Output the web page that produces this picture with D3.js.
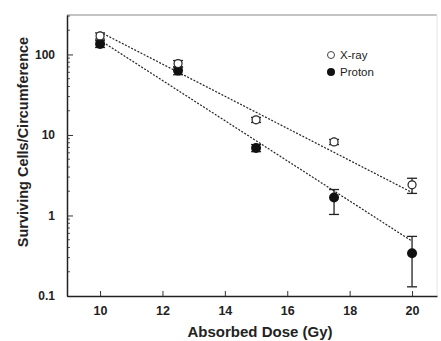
<!DOCTYPE html>
<html>
<head>
<meta charset="utf-8">
<script src="https://cdn.jsdelivr.net/npm/d3@7"></script>
<style>
body{margin:0;background:#fff;}
svg text{font-family:"Liberation Sans",Arial,sans-serif;}
</style>
</head>
<body>
<div id="plot"></div>
<script>
// data
var doses = [10, 12.5, 15, 17.5, 20];
var xray = [170, 77, 15.4, 8.2, 2.4];
var xrayLo = [155, 70, 14.3, 7.6, 1.88];
var xrayHi = [185, 84, 16.5, 8.8, 2.9];
var proton = [135, 63, 6.9, 1.67, 0.34];
var protonLo = [122, 56, 6.2, 1.03, 0.13];
var protonHi = [148, 70, 7.6, 2.1, 0.55];
var fitDose = [10, 20];
var xrayFit = [190, 1.93];
var protonFit = [150, 0.48];
var xTicks = [10, 12, 14, 16, 18, 20];
var yTicks = [0.1, 1, 10, 100];

var margin = {t:15, r:4, b:45, l:67};
var W = 441, H = 341;
var width = W - margin.l - margin.r,
    height = H - margin.t - margin.b;

var svg = d3.select('#plot').append('svg')
    .attr('width', W)
    .attr('height', H);

var plot = svg.append('g')
    .attr('transform', 'translate(' + margin.l + ',' + margin.t + ')');

var x = d3.scaleLinear().domain([8.94, 20.8]).range([0, width]);
var y = d3.scaleLog().domain([0.1, Math.pow(10, 3.49) / 10]).range([height, 0]);

// frame: gray top and right, black left and bottom
plot.append('line').attr('x1', 0).attr('x2', width).attr('y1', 0).attr('y2', 0)
    .attr('stroke', '#c4c4c4').attr('stroke-width', 2);
plot.append('line').attr('x1', width).attr('x2', width).attr('y1', 0).attr('y2', height)
    .attr('stroke', '#e6e6e6').attr('stroke-width', 1);

// minor y ticks
var minor = [];
for (var d = 0.1; d < 1000; d *= 10) {
    for (var k = 2; k <= 9; k++) {
        if (d * k <= y.domain()[1]) minor.push(d * k);
    }
}
plot.selectAll('.minor').data(minor).enter().append('line')
    .attr('x1', 0).attr('x2', 3)
    .attr('y1', function(d){ return y(d); })
    .attr('y2', function(d){ return y(d); })
    .attr('stroke', '#555').attr('stroke-width', 1);

var yAxis = d3.axisLeft(y).tickValues(yTicks).tickSizeInner(-6).tickSizeOuter(0)
    .tickPadding(12).tickFormat(function(d){ return d < 1 ? '0.1' : d3.format('d')(d); });
var gy = plot.append('g').call(yAxis);
gy.select('.domain').attr('stroke', '#222').attr('stroke-width', 1.5);
gy.selectAll('.tick line').attr('stroke', '#333');
gy.selectAll('text').attr('font-size', 12).attr('font-weight', 'bold').attr('fill', '#222');

var xAxis = d3.axisBottom(x).tickValues(xTicks).tickSizeInner(-5).tickSizeOuter(0)
    .tickPadding(10);
var gx = plot.append('g').attr('transform', 'translate(0,' + height + ')').call(xAxis);
gx.select('.domain').attr('stroke', '#222').attr('stroke-width', 1.5);
gx.selectAll('.tick line').attr('stroke', '#333');
gx.selectAll('text').attr('font-size', 12.5).attr('font-weight', 'bold').attr('fill', '#222');

// axis titles
svg.append('text')
    .attr('x', 260).attr('y', 337)
    .attr('text-anchor', 'middle')
    .attr('font-size', 15).attr('font-weight', 'bold').attr('fill', '#222')
    .text('Absorbed Dose (Gy)');
svg.append('text')
    .attr('transform', 'translate(28,142) rotate(-90)')
    .attr('text-anchor', 'middle')
    .attr('font-size', 14.5).attr('font-weight', 'bold').attr('fill', '#222')
    .text('Surviving Cells/Circumference');

// fit lines
var line = d3.line().x(function(d){ return x(d[0]); }).y(function(d){ return y(d[1]); });
plot.append('path').datum(d3.zip(fitDose, xrayFit)).attr('d', line)
    .attr('fill', 'none').attr('stroke', '#222').attr('stroke-width', 1.2)
    .attr('stroke-dasharray', '2,1.5');
plot.append('path').datum(d3.zip(fitDose, protonFit)).attr('d', line)
    .attr('fill', 'none').attr('stroke', '#222').attr('stroke-width', 1.2)
    .attr('stroke-dasharray', '2,1.5');

// error bars
function errorBars(lo, hi) {
    var g = plot.append('g');
    doses.forEach(function(d, i) {
        var cx = x(d);
        g.append('line').attr('x1', cx).attr('x2', cx).attr('y1', y(lo[i])).attr('y2', y(hi[i]))
            .attr('stroke', '#222').attr('stroke-width', 1.3);
        [lo[i], hi[i]].forEach(function(v) {
            g.append('line').attr('x1', cx - 5).attr('x2', cx + 5).attr('y1', y(v)).attr('y2', y(v))
                .attr('stroke', '#222').attr('stroke-width', 1.3);
        });
    });
}
errorBars(protonLo, protonHi);
errorBars(xrayLo, xrayHi);

// markers
plot.selectAll('.proton').data(doses).enter().append('circle')
    .attr('cx', function(d){ return x(d); })
    .attr('cy', function(d, i){ return y(proton[i]); })
    .attr('r', 5).attr('fill', '#111');
plot.selectAll('.xray').data(doses).enter().append('circle')
    .attr('cx', function(d){ return x(d); })
    .attr('cy', function(d, i){ return y(xray[i]); })
    .attr('r', 4).attr('fill', '#fff').attr('stroke', '#222').attr('stroke-width', 1.2);

// legend
var leg = svg.append('g').attr('transform', 'translate(331,55)');
leg.append('circle').attr('cx', 0).attr('cy', 0).attr('r', 3.5)
    .attr('fill', '#fff').attr('stroke', '#444').attr('stroke-width', 1);
leg.append('text').attr('x', 9).attr('y', 4).attr('font-size', 11.5).attr('fill', '#222').text('X-ray');
leg.append('circle').attr('cx', 0).attr('cy', 17).attr('r', 4).attr('fill', '#111');
leg.append('text').attr('x', 9).attr('y', 21).attr('font-size', 11.5).attr('fill', '#222').text('Proton');
</script>
</body>
</html>
